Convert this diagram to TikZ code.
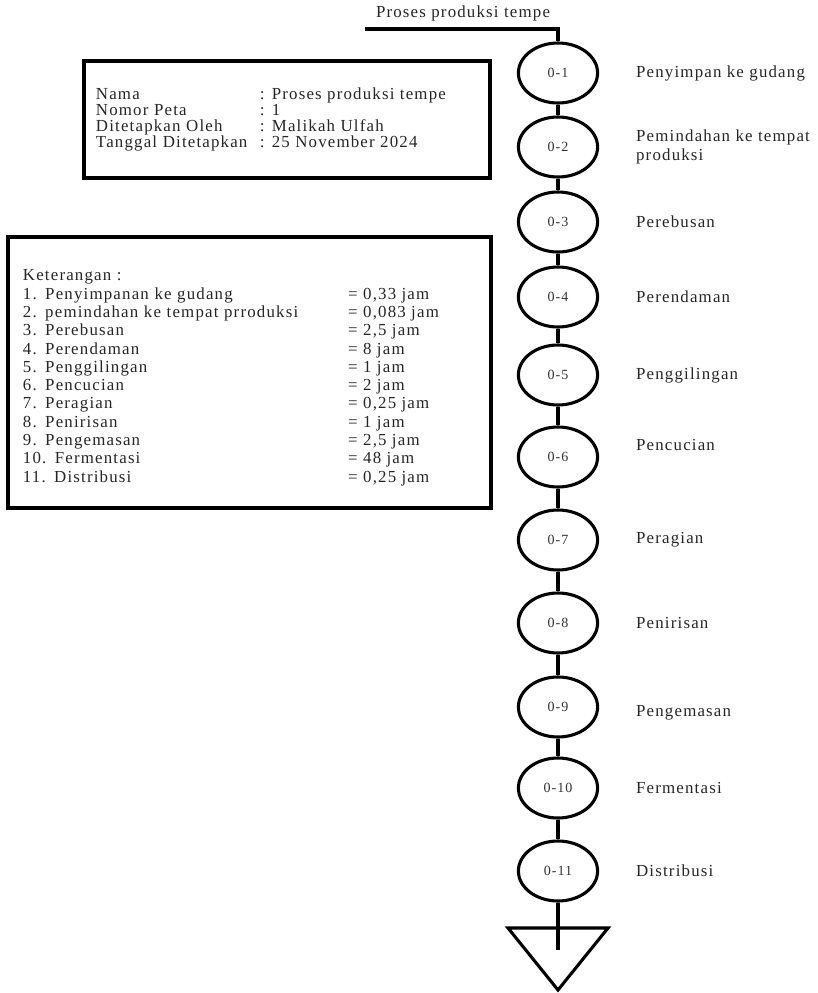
\documentclass[tikz,border=0pt]{standalone}
\usepackage{fontspec}
\setmainfont{Liberation Serif}[LetterSpace=7]
\usepackage{tikz}
\usetikzlibrary{positioning, shapes.geometric, matrix}

\begin{document}
\begin{tikzpicture}[
    font=\fontsize{12}{14}\selectfont,
    opr/.style={draw, ellipse, line width=2.2pt, minimum width=1.98cm, minimum height=1.5cm, inner sep=0pt, font=\fontsize{10}{12}\selectfont, text=black!80},
    lbl/.style={anchor=west, align=left, text=black!85},
    flow/.style={line width=2.2pt},
    infobox/.style={draw, line width=2.5pt}
  ]
  \useasboundingbox (0,0) rectangle (20.45,-24.825);

  % header line
  \node[text=black!85] (title) at (11.575,-0.33) {Proses produksi tempe};
  \coordinate (start) at (9.125,-0.725);

  % operations
  \node[opr] (o1) at (13.95,-1.825) {0-1};
  \node[opr] (o2) at (13.95,-3.675) {0-2};
  \node[opr] (o3) at (13.95,-5.55) {0-3};
  \node[opr] (o4) at (13.95,-7.425) {0-4};
  \node[opr] (o5) at (13.95,-9.375) {0-5};
  \node[opr] (o6) at (13.95,-11.425) {0-6};
  \node[opr] (o7) at (13.95,-13.5) {0-7};
  \node[opr] (o8) at (13.95,-15.575) {0-8};
  \node[opr] (o9) at (13.95,-17.675) {0-9};
  \node[opr] (o10) at (13.95,-19.7) {0-10};
  \node[opr] (o11) at (13.95,-21.775) {0-11};

  \node[lbl, right=0.8cm of o1] (p1) {Penyimpan ke gudang};
  \node[lbl, right=0.8cm of o2] (p2) {Pemindahan ke tempat\\produksi};
  \node[lbl, right=0.8cm of o3] (p3) {Perebusan};
  \node[lbl, right=0.8cm of o4] (p4) {Perendaman};
  \node[lbl, right=0.8cm of o5] (p5) {Penggilingan};
  \node[lbl, right=0.8cm of o6, yshift=0.3cm] (p6) {Pencucian};
  \node[lbl, right=0.8cm of o7] (p7) {Peragian};
  \node[lbl, right=0.8cm of o8] (p8) {Penirisan};
  \node[lbl, right=0.8cm of o9, yshift=-0.15cm] (p9) {Pengemasan};
  \node[lbl, right=0.8cm of o10] (p10) {Fermentasi};
  \node[lbl, right=0.8cm of o11] (p11) {Distribusi};

  % storage
  \draw[flow] (12.7,-23.2) -- (15.2,-23.2) -- (13.95,-24.75) -- cycle;
  \coordinate (store) at (13.95,-23.75);

  \draw[flow] (start) -- (start -| o1) -- (o1);
  \draw[flow] (o1) -- (o2);
  \draw[flow] (o2) -- (o3);
  \draw[flow] (o3) -- (o4);
  \draw[flow] (o4) -- (o5);
  \draw[flow] (o5) -- (o6);
  \draw[flow] (o6) -- (o7);
  \draw[flow] (o7) -- (o8);
  \draw[flow] (o8) -- (o9);
  \draw[flow] (o9) -- (o10);
  \draw[flow] (o10) -- (o11);
  \draw[flow] (o11) -- (store);

  % map data
  \node[infobox, minimum width=10.15cm, minimum height=2.925cm] (peta) at (7.175,-2.9875) {};
  \matrix (petainfo) [matrix of nodes,
    nodes={anchor=base west, inner sep=0pt, text height=0.3cm, text depth=0.1cm, text=black!85},
    column 1/.style={nodes={text width=4.1cm}},
    row sep=0pt, column sep=0pt,
    anchor=north west,
    ampersand replacement=\&
    ] at (2.275,-2.075) {
    Nama \& : Proses produksi tempe \\
    Nomor Peta \& : 1 \\
    Ditetapkan Oleh \& : Malikah Ulfah \\
    Tanggal Ditetapkan \& : 25 November 2024 \\
  };

  % legend
  \node[infobox, minimum width=12.075cm, minimum height=6.775cm] (ket) at (6.2375,-9.3125) {};
  \matrix (ketlist) [matrix of nodes,
    nodes={anchor=base west, inner sep=0pt, text height=0.33cm, text depth=0.127cm, text=black!85},
    column 1/.style={nodes={text width=8.125cm}},
    row sep=0pt, column sep=0pt,
    anchor=north west,
    ampersand replacement=\&
    ] at (0.45,-6.57) {
    Keterangan : \& \\
    1. Penyimpanan ke gudang \& = 0,33 jam \\
    2. pemindahan ke tempat prroduksi \& = 0,083 jam \\
    3. Perebusan \& = 2,5 jam \\
    4. Perendaman \& = 8 jam \\
    5. Penggilingan \& = 1 jam \\
    6. Pencucian \& = 2 jam \\
    7. Peragian \& = 0,25 jam \\
    8. Penirisan \& = 1 jam \\
    9. Pengemasan \& = 2,5 jam \\
    10. Fermentasi \& = 48 jam \\
    11. Distribusi \& = 0,25 jam \\
  };
\end{tikzpicture}
\end{document}
